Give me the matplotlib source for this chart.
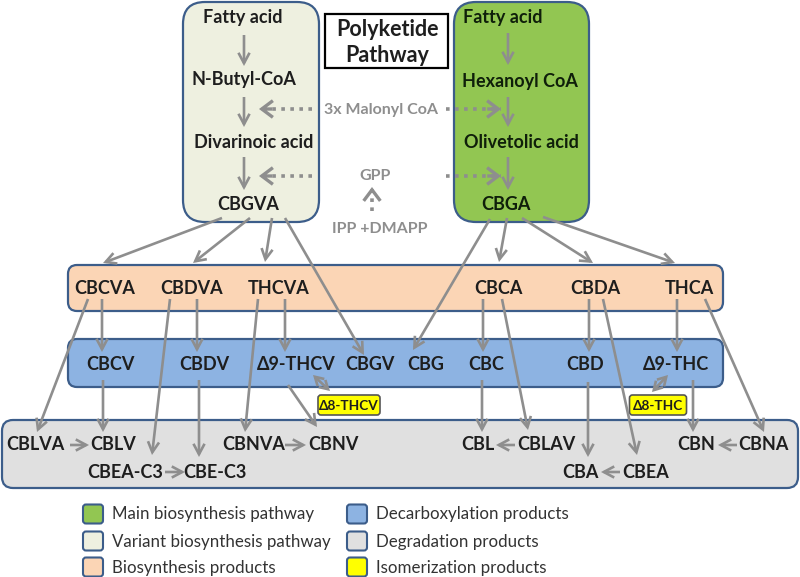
import matplotlib
matplotlib.use("Agg")
import matplotlib.pyplot as plt
from matplotlib.patches import FancyBboxPatch, FancyArrowPatch

plt.rcParams['font.family'] = ['Lato', 'DejaVu Sans']

# ---------------- data (diagram content) ----------------
variant_labels = ["Fatty acid", "N-Butyl-CoA", "Divarinoic acid", "CBGVA"]
variant_x = [243, 244, 254, 248]
variant_y = [18, 80, 143, 204]

main_labels = ["Fatty acid", "Hexanoyl CoA", "Olivetolic acid", "CBGA"]
main_x = [503, 520, 521, 506]
main_y = [18, 82, 143, 204]

acid_labels = ["CBCVA", "CBDVA", "THCVA", "CBCA", "CBDA", "THCA"]
acid_x = [105, 192, 279, 498, 595, 689]

decarb_labels = ["CBCV", "CBDV", "Δ9-THCV", "CBGV", "CBG", "CBC", "CBD", "Δ9-THC"]
decarb_x = [110, 204, 296, 370, 426, 486, 585, 676]

degr1_labels = ["CBLVA", "CBLV", "CBNVA", "CBNV", "CBL", "CBLAV", "CBN", "CBNA"]
degr1_x = [35, 113, 254, 333, 478, 546, 696, 763]
degr2_labels = ["CBEA-C3", "CBE-C3", "CBA", "CBEA"]
degr2_x = [125, 215, 580, 646]

iso_labels = ["Δ8-THCV", "Δ8-THC"]
iso_x = [349, 658]

legend_labels = ["Main biosynthesis pathway", "Variant biosynthesis pathway", "Biosynthesis products",
                 "Decarboxylation products", "Degradation products", "Isomerization products"]
legend_colors = ["#92c652", "#eef0e0", "#fbd5b5", "#8db3e2", "#e0e0e0", "#ffff00"]

# arrows: (x0, y0, x1, y1)
solid_arrows = [
    # inside pathway boxes
    (244, 35, 244, 66), (244, 97, 244, 127), (244, 157, 244, 190),
    (508, 33, 508, 65), (508, 97, 508, 127), (508, 157, 508, 190),
    # CBGVA -> products
    (222, 218, 103, 263), (250, 218, 193, 263), (272, 218, 265, 262), (285, 218, 364, 355),
    # CBGA -> products
    (490, 219, 413, 350), (507, 218, 499, 262), (522, 218, 593, 263), (543, 217, 675, 263),
    # acids -> neutral
    (102, 299, 102, 352), (197, 299, 197, 352), (285, 299, 285, 352),
    (483, 299, 483, 352), (589, 299, 589, 352), (677, 299, 677, 352),
    # acids -> degradation
    (88, 299, 37, 432), (170, 299, 152, 455), (258, 299, 245, 432),
    (502, 299, 528, 430), (603, 299, 637, 455), (705, 299, 764, 432),
    # neutral -> degradation
    (103, 380, 103, 432), (199, 380, 199, 457), (288, 385, 317, 427),
    (482, 380, 482, 432), (588, 382, 588, 457), (693, 380, 693, 432),
    # within degradation row
    (70, 445, 89, 445), (165, 472, 185, 472), (285, 445, 306, 445),
    (515, 445, 496, 445), (620, 472, 601, 472), (737, 445, 718, 445),
]
double_arrows = [(313, 375, 330, 391), (668, 375, 652, 392)]
dotted_arrows = [(312, 109, 259, 109), (446, 109, 501, 109),
                 (312, 176, 259, 176), (446, 176, 501, 176),
                 (372, 211, 372, 187)]

# ---------------- drawing ----------------
fig = plt.figure(figsize=(8, 5.77), dpi=100)
ax = fig.add_axes([0, 0, 1, 1])
ax.set_xlim(0, 800)
ax.set_ylim(577, 0)
ax.axis('off')

EDGE = "#3c5d8a"
ARROW = "#8e8e8e"
TXT = "#1e1e1e"

def rbox(x0, y0, x1, y1, fc, r, ec=EDGE, lw=1.6, z=1):
    p = FancyBboxPatch((x0, y0), x1 - x0, y1 - y0,
                       boxstyle=f"round,pad=0,rounding_size={r}",
                       fc=fc, ec=ec, lw=lw, zorder=z)
    ax.add_patch(p)

rbox(183, 2, 319, 222, "#eef0e0", 22)
rbox(454, 2, 589, 222, "#92c652", 22)
rbox(68, 265, 723, 311, "#fbd5b5", 9)
rbox(68, 339, 723, 387, "#8db3e2", 9)
rbox(2, 420, 798, 488, "#e0e0e0", 11)
ax.add_patch(plt.Rectangle((325, 14), 123, 54, fc="white", ec="black", lw=1.6, zorder=1))
ax.text(387, 30, "Polyketide", ha='center', va='center', fontsize=15.5,
        fontweight='bold', color=TXT, zorder=3)
ax.text(387, 56, "Pathway", ha='center', va='center', fontsize=15.5,
        fontweight='bold', color=TXT, zorder=3)

for i, lab in enumerate(iso_labels):
    w = 62 if i == 0 else 57
    rbox(iso_x[i] - w / 2, 395, iso_x[i] + w / 2, 415, "#ffff00", 3, ec="#555555", lw=1.2, z=2)
    ax.text(iso_x[i], 405.5, lab, ha='center', va='center', fontsize=9.8,
            fontweight='bold', color=TXT, zorder=3)

FS = 13
def lab(x, y, s, fs=FS, color=TXT, weight='bold'):
    ax.text(x, y, s, ha='center', va='center', fontsize=fs, fontweight=weight,
            color=color, zorder=3)

for s, x, y in zip(variant_labels, variant_x, variant_y):
    lab(x, y, s)
for s, x, y in zip(main_labels, main_x, main_y):
    lab(x, y, s, color="#0f1f0a")
for s, x in zip(acid_labels, acid_x):
    lab(x, 289, s)
for s, x in zip(decarb_labels, decarb_x):
    lab(x, 364, s)
for s, x in zip(degr1_labels, degr1_x):
    lab(x, 445, s)
for s, x in zip(degr2_labels, degr2_x):
    lab(x, 472, s)

lab(381, 110, "3x Malonyl CoA", fs=11.5, color=ARROW)
lab(375, 176, "GPP", fs=11.5, color=ARROW)
lab(380, 229, "IPP +DMAPP", fs=11.5, color=ARROW)

def arrow(x0, y0, x1, y1, style="->,head_length=7.5,head_width=4", ls='-', lw=1.9):
    a = FancyArrowPatch((x0, y0), (x1, y1), arrowstyle=style, mutation_scale=1,
                        color=ARROW, lw=lw, linestyle=ls, shrinkA=0, shrinkB=0,
                        zorder=2, capstyle='butt', joinstyle='miter')
    ax.add_patch(a)

for a in solid_arrows:
    arrow(*a)
for a in double_arrows:
    arrow(*a, style="<->,head_length=6,head_width=3.5")
for (x0, y0, x1, y1) in dotted_arrows:
    ax.plot([x0, x1], [y0, y1], color=ARROW, lw=2.6, linestyle=(0, (1, 1.5)), zorder=2)
    arrow(x0 + (x1 - x0) * 0.75, y0 + (y1 - y0) * 0.75, x1, y1,
          style="->,head_length=8,head_width=6", lw=2.4)

# legend
rows = [514, 541, 567]
for i, (s, c) in enumerate(zip(legend_labels, legend_colors)):
    col = i // 3
    sx = 83 if col == 0 else 347
    y = rows[i % 3]
    rbox(sx, y - 9.5, sx + 20, y + 9.5, c, 3, ec="#3c5d8a", lw=1.5)
    ax.text(sx + 29, y + 0.5, s, ha='left', va='center', fontsize=12.2, color="#333333")

fig.savefig("out.png", dpi=100)
